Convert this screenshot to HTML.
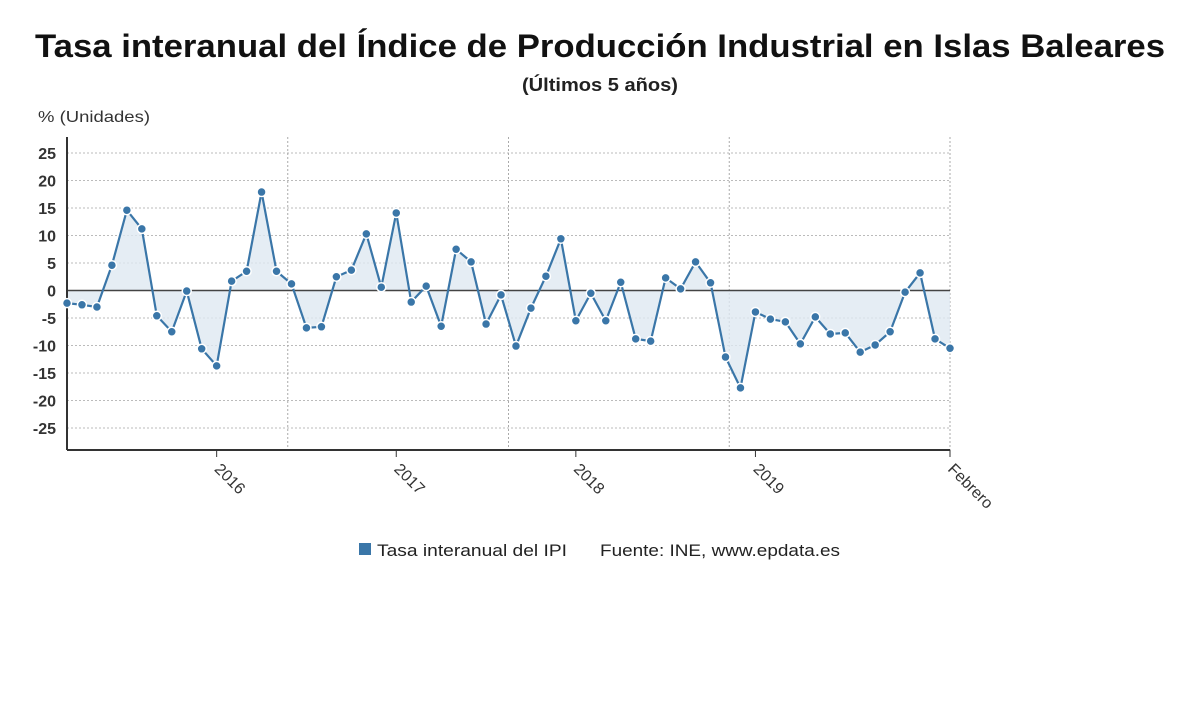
<!DOCTYPE html>
<html><head><meta charset="utf-8"><style>
body{margin:0;background:#fff;font-family:"Liberation Sans",sans-serif;}
</style></head><body>
<svg width="1200" height="705" font-family="Liberation Sans, sans-serif">
<text x="35" y="57" font-size="32" font-weight="bold" fill="#111" textLength="1130" lengthAdjust="spacingAndGlyphs">Tasa interanual del Índice de Producción Industrial en Islas Baleares</text>
<text x="522" y="91" font-size="18" font-weight="bold" fill="#222" textLength="156" lengthAdjust="spacingAndGlyphs">(Últimos 5 años)</text>
<text x="38" y="122" font-size="16" fill="#333" textLength="112" lengthAdjust="spacingAndGlyphs">% (Unidades)</text>
<g id="grid"></g><g id="area"></g><g id="axes"></g><g id="line"></g><g id="labels"></g>
<rect x="359" y="543" width="12" height="12" fill="#3a76a8"/>
<text x="377" y="556" font-size="17" fill="#222" textLength="190" lengthAdjust="spacingAndGlyphs">Tasa interanual del IPI</text>
<text x="600" y="556" font-size="17" fill="#222" textLength="240" lengthAdjust="spacingAndGlyphs">Fuente: INE, www.epdata.es</text>
</svg>
<script>
const values=[-2.3,-2.6,-3.0,4.6,14.6,11.2,-4.6,-7.5,-0.1,-10.6,-13.7,1.7,3.5,17.9,3.5,1.2,-6.8,-6.6,2.5,3.7,10.3,0.6,14.1,-2.1,0.8,-6.5,7.5,5.2,-6.1,-0.8,-10.1,-3.2,2.6,9.4,-5.5,-0.5,-5.5,1.5,-8.8,-9.2,2.3,0.3,5.2,1.4,-12.1,-17.7,-3.9,-5.2,-5.7,-9.7,-4.8,-7.9,-7.7,-11.2,-9.9,-7.5,-0.3,3.2,-8.8,-10.5];
const yTicks=[25,20,15,10,5,0,-5,-10,-15,-20,-25];
const xLabels=["2016","2017","2018","2019","Febrero"];
const xLabelIdx=[10,22,34,46,59];
const vGridIdx=[14.75,29.5,44.25,59];
const NS="http://www.w3.org/2000/svg";
const X0=67,X1=950,n=values.length;
const xs=i=>X0+(X1-X0)*i/(n-1);
const ys=v=>290.5-v*5.5;
function mk(t,a,p){const e=document.createElementNS(NS,t);for(const k in a)e.setAttribute(k,a[k]);document.getElementById(p).appendChild(e);return e;}
yTicks.forEach(t=>{
 if(t!==0){const l=mk('line',{x1:X0,x2:X1,y1:ys(t),y2:ys(t),stroke:'#bbb','stroke-dasharray':'2,2'},'grid');
 
 }
 const tx=mk('text',{x:56,y:ys(t)+6,'text-anchor':'end','font-size':16,fill:'#333','font-weight':'bold'},'labels');tx.textContent=t;
 
 
});
vGridIdx.forEach(i=>{const l=mk('line',{x1:xs(i),x2:xs(i),y1:137,y2:450,stroke:'#aaa','stroke-dasharray':'2,2'},'grid');
 
 });
let d='M'+xs(0)+','+ys(0);values.forEach((v,i)=>d+=' L'+xs(i)+','+ys(v));d+=' L'+xs(n-1)+','+ys(0)+'Z';
const ar=mk('path',{d:d,fill:'#dfe8f1','fill-opacity':0.8},'area');


const z=mk('line',{x1:X0,x2:X1,y1:ys(0),y2:ys(0),stroke:'#444','stroke-width':1.5},'axes');


const ya=mk('line',{x1:X0,x2:X0,y1:137,y2:450,stroke:'#333','stroke-width':2},'axes');


const xa=mk('line',{x1:X0,x2:X1,y1:450,y2:450,stroke:'#333','stroke-width':2},'axes');


const pl=mk('polyline',{points:values.map((v,i)=>xs(i)+','+ys(v)).join(' '),fill:'none',stroke:'#3a76a8','stroke-width':2.2},'line');


values.forEach((v,i)=>{const c=mk('circle',{cx:xs(i),cy:ys(v),r:4.5,fill:'#3a76a8',stroke:'#fff','stroke-width':1.5},'line');
 
 });
xLabels.forEach((s,k)=>{const x=xs(xLabelIdx[k]);
 const tk=mk('line',{x1:x,x2:x,y1:450,y2:457,stroke:'#333'},'axes');
 
 
 const t=mk('text',{x:x-3,y:470,'font-size':16,fill:'#333',transform:`rotate(45 ${x-3} 470)`},'labels');t.textContent=s;
 
 });
</script>
</body></html>
